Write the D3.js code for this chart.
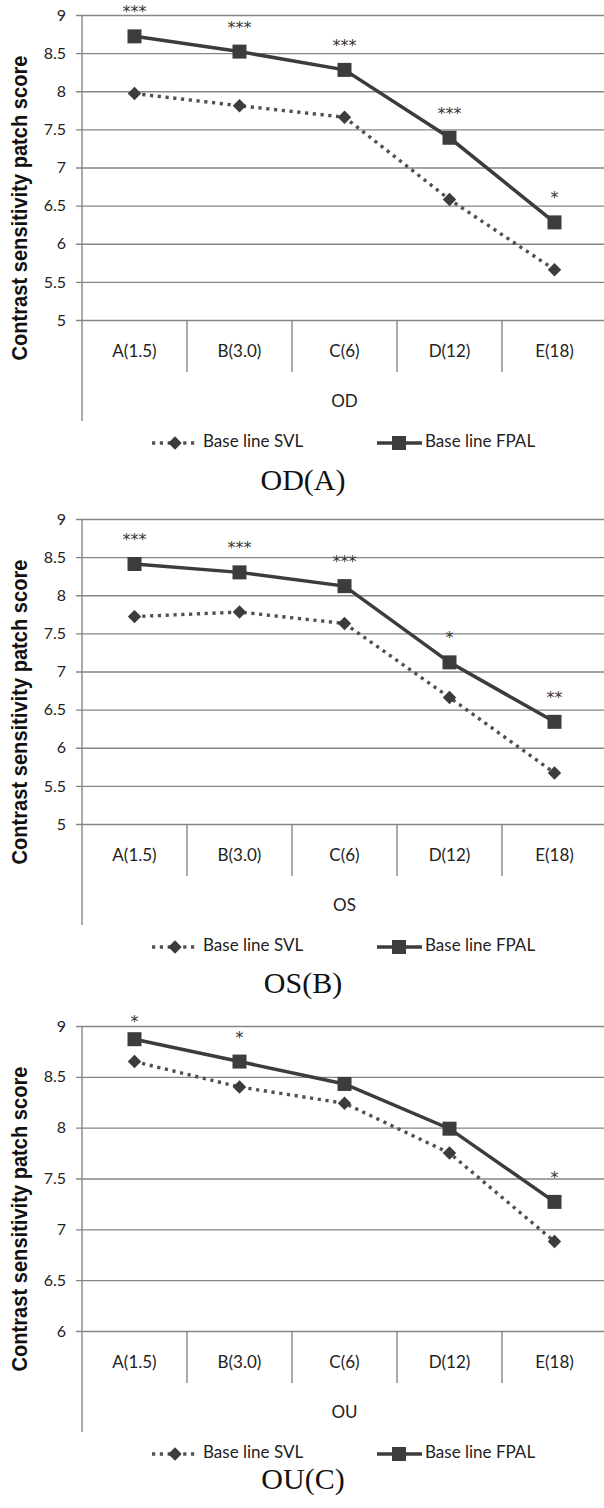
<!DOCTYPE html>
<html>
<head>
<meta charset="utf-8">
<script src="https://cdn.jsdelivr.net/npm/d3@7"></script>
<style>
  body { margin: 0; background: #fff; }
  svg { display: block; }
</style>
</head>
<body>
<div id="chart-container"></div>
<script>
// categories and values
const categories = ["A(1.5)", "B(3.0)", "C(6)", "D(12)", "E(18)"];

const odSVL  = [7.97, 7.81, 7.66, 6.58, 5.66];
const odFPAL = [8.72, 8.52, 8.28, 7.39, 6.28];
const odSig  = ["***", "***", "***", "***", "*"];

const osSVL  = [7.72, 7.78, 7.63, 6.66, 5.67];
const osFPAL = [8.41, 8.30, 8.12, 7.12, 6.34];
const osSig  = ["***", "***", "***", "*", "**"];

const ouSVL  = [8.65, 8.40, 8.24, 7.75, 6.88];
const ouFPAL = [8.87, 8.65, 8.43, 7.99, 7.27];
const ouSig  = ["*", "*", "", "", "*"];

const ticks5to9 = [5, 5.5, 6, 6.5, 7, 7.5, 8, 8.5, 9];
const ticks6to9 = [6, 6.5, 7, 7.5, 8, 8.5, 9];

const seriesNames = ["Base line SVL", "Base line FPAL"];
const yTitle = "Contrast sensitivity patch score";

const panels = [
    {group: "OD", caption: "OD(A)", svl: odSVL, fpal: odFPAL, sig: odSig, ticks: ticks5to9, top: 0, capY: 163},
    {group: "OS", caption: "OS(B)", svl: osSVL, fpal: osFPAL, sig: osSig, ticks: ticks5to9, top: 504, capY: 162},
    {group: "OU", caption: "OU(C)", svl: ouSVL, fpal: ouFPAL, sig: ouSig, ticks: ticks6to9, top: 1011, capY: 151}
];

const W = 604, H = 1508;
const margin = {left: 82, top: 15};
const plotW = 525, plotH = 305;
const dark = "#3c3c3c", grid = "#868686";
const sansFont = "Lato, 'Open Sans', sans-serif";

const svg = d3.select("#chart-container").append("svg")
    .attr("width", W)
    .attr("height", H);

panels.forEach(p => {
    const g = svg.append("g")
        .attr("transform", `translate(${margin.left}, ${margin.top + p.top})`);

    const x = d3.scaleBand()
        .domain(categories)
        .range([0, plotW]);
    const cx = c => x(c) + x.bandwidth() / 2;

    const y = d3.scaleLinear()
        .domain(d3.extent(p.ticks))
        .range([plotH, 0]);

    // horizontal gridlines with small ticks on the left
    const yAxis = g.append("g")
        .call(d3.axisLeft(y)
            .tickValues(p.ticks)
            .tickFormat(d3.format("~g"))
            .tickSize(-plotW)
            .tickPadding(16));
    yAxis.select(".domain").remove();
    yAxis.selectAll(".tick line")
        .attr("x1", -6)
        .attr("stroke", grid)
        .attr("stroke-width", 1.4);
    yAxis.selectAll(".tick text")
        .attr("font-family", sansFont)
        .attr("font-size", 16)
        .attr("fill", "#222");

    // vertical axis line, running down through the category block
    g.append("line")
        .attr("x1", 0).attr("x2", 0)
        .attr("y1", 0).attr("y2", plotH + 101)
        .attr("stroke", grid)
        .attr("stroke-width", 1.4);

    // category separators below the plot
    g.selectAll(".sep")
        .data(categories)
        .enter().append("line")
        .attr("class", "sep")
        .attr("x1", d => x(d) + x.bandwidth()).attr("x2", d => x(d) + x.bandwidth())
        .attr("y1", plotH).attr("y2", plotH + 52)
        .attr("stroke", grid)
        .attr("stroke-width", 1.4);

    g.selectAll(".cat")
        .data(categories)
        .enter().append("text")
        .attr("class", "cat")
        .attr("x", d => cx(d))
        .attr("y", plotH + 33)
        .attr("text-anchor", "middle")
        .attr("dominant-baseline", "middle")
        .attr("font-family", sansFont)
        .attr("font-size", 17)
        .attr("fill", "#222")
        .text(d => d);

    g.append("text")
        .attr("x", plotW / 2)
        .attr("y", plotH + 83)
        .attr("text-anchor", "middle")
        .attr("dominant-baseline", "middle")
        .attr("font-family", sansFont)
        .attr("font-size", 17)
        .attr("fill", "#222")
        .text(p.group);

    // y-axis title (the original is a little stretched across)
    g.append("text")
        .attr("transform", `translate(-55, 193) rotate(-90) scale(1, 1.25)`)
        .attr("text-anchor", "middle")
        .attr("font-family", "'Liberation Sans', Arial, sans-serif")
        .attr("font-weight", "bold")
        .attr("font-size", 17)
        .attr("textLength", 305)
        .attr("lengthAdjust", "spacingAndGlyphs")
        .attr("fill", "#111")
        .text(yTitle);

    const line = d3.line()
        .x((d, i) => cx(categories[i]))
        .y(d => y(d));

    // SVL: dotted line with diamonds
    g.append("path")
        .datum(p.svl)
        .attr("d", line)
        .attr("fill", "none")
        .attr("stroke", "#505050")
        .attr("stroke-width", 3.4)
        .attr("stroke-dasharray", "3.2 4.6");

    g.selectAll(".diamond")
        .data(p.svl)
        .enter().append("path")
        .attr("class", "diamond")
        .attr("d", d3.symbol(d3.symbolDiamond2, 115))
        .attr("transform", (d, i) => `translate(${cx(categories[i])}, ${y(d)})`)
        .attr("fill", dark);

    // FPAL: solid line with squares
    g.append("path")
        .datum(p.fpal)
        .attr("d", line)
        .attr("fill", "none")
        .attr("stroke", dark)
        .attr("stroke-width", 3.5);

    g.selectAll(".square")
        .data(p.fpal)
        .enter().append("rect")
        .attr("class", "square")
        .attr("x", (d, i) => cx(categories[i]) - 7)
        .attr("y", d => y(d) - 7)
        .attr("width", 14)
        .attr("height", 14)
        .attr("fill", dark);

    // significance stars above FPAL points
    g.selectAll(".sig")
        .data(p.fpal)
        .enter().append("text")
        .attr("class", "sig")
        .attr("x", (d, i) => cx(categories[i]))
        .attr("y", d => Math.max(y(d) - 28, -8) + 9)
        .attr("text-anchor", "middle")
        .attr("font-family", "'DejaVu Sans', sans-serif")
        .attr("font-size", 16)
        .attr("fill", "#333")
        .text((d, i) => p.sig[i]);

    // legend
    const leg = g.append("g")
        .attr("transform", `translate(0, ${plotH + 123})`);
    const lx = [70, 295];
    leg.append("line")
        .attr("x1", lx[0]).attr("x2", lx[0] + 45)
        .attr("stroke", "#505050")
        .attr("stroke-width", 3.4)
        .attr("stroke-dasharray", "3.2 4.6");
    leg.append("path")
        .attr("d", d3.symbol(d3.symbolDiamond2, 115))
        .attr("transform", `translate(${lx[0] + 23}, 0)`)
        .attr("fill", dark);
    leg.append("line")
        .attr("x1", lx[1]).attr("x2", lx[1] + 45)
        .attr("stroke", dark)
        .attr("stroke-width", 3.5);
    leg.append("rect")
        .attr("x", lx[1] + 15).attr("y", -7)
        .attr("width", 14).attr("height", 14)
        .attr("fill", dark);
    leg.selectAll(".legtext")
        .data(seriesNames)
        .enter().append("text")
        .attr("class", "legtext")
        .attr("x", (d, i) => i === 0 ? lx[0] + 51 : lx[1] + 48)
        .attr("y", 0)
        .attr("dominant-baseline", "middle")
        .attr("font-family", sansFont)
        .attr("font-size", 17)
        .attr("fill", "#222")
        .text(d => d);

    // caption under each panel
    g.append("text")
        .attr("x", 303 - margin.left)
        .attr("y", plotH + p.capY)
        .attr("text-anchor", "middle")
        .attr("dominant-baseline", "middle")
        .attr("font-family", "'Liberation Serif', 'Times New Roman', serif")
        .attr("font-size", 30)
        .attr("fill", "#111")
        .text(p.caption);
});
</script>
</body>
</html>
